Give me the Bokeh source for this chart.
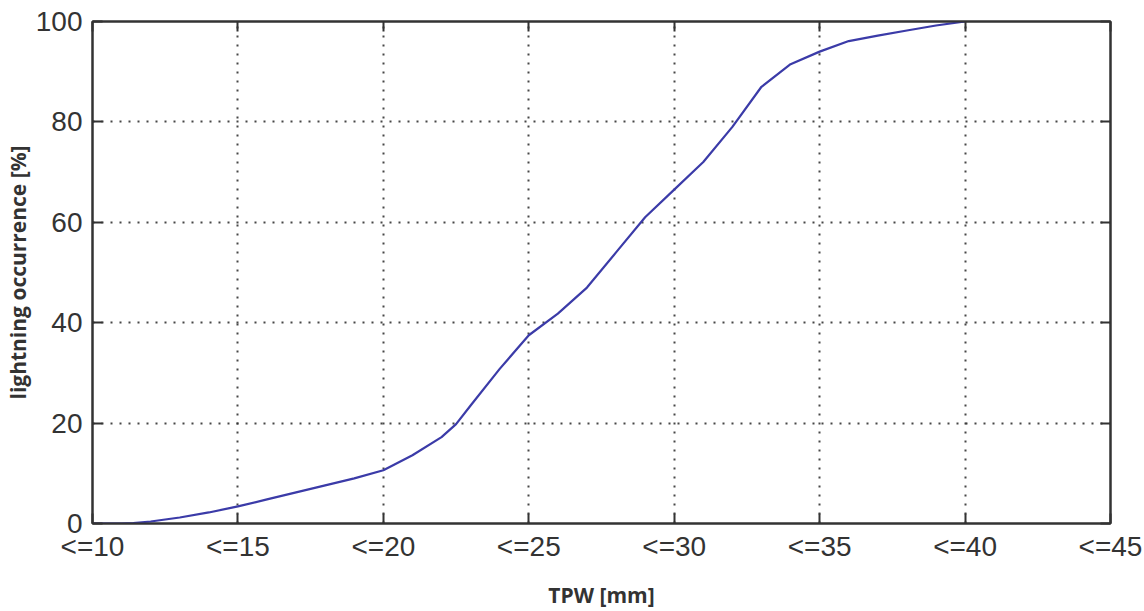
from bokeh.plotting import figure
from bokeh.models import Range1d, FixedTicker, LinearAxis, CustomJSTickFormatter
from bokeh.embed import file_html
from bokeh.resources import INLINE

# Data
tpw = [10, 11, 11.4, 12, 13, 14, 15, 16, 17, 18, 19, 20, 21, 22, 22.5, 23, 24, 25,
       26, 27, 28, 29, 30, 31, 32, 33, 34, 35, 36, 37, 38, 39, 40]
occurrence = [0, 0, 0.1, 0.4, 1.2, 2.2, 3.4, 4.8, 6.2, 7.6, 9.0, 10.6, 13.6, 17.2,
              19.8, 23.5, 30.8, 37.5, 41.8, 47.0, 54.0, 61.0, 66.5, 72.0, 79.0,
              87.0, 91.5, 94.0, 96.1, 97.2, 98.2, 99.2, 100.0]
x_ticks = [10, 15, 20, 25, 30, 35, 40, 45]
x_tick_labels = ["<=10", "<=15", "<=20", "<=25", "<=30", "<=35", "<=40", "<=45"]
y_ticks = [0, 20, 40, 60, 80, 100]

p = figure(width=1144, height=611, output_backend="svg", toolbar_location=None,
           x_range=Range1d(10, 45), y_range=Range1d(0, 100),
           min_border_left=92, min_border_right=34, min_border_top=21,
           min_border_bottom=88)

p.line(tpw, occurrence, line_color="#3b3ba8", line_width=2.2)

p.outline_line_color = "#333333"
p.outline_line_width = 2

p.xaxis.ticker = FixedTicker(ticks=x_ticks)
p.xaxis.major_label_overrides = {t: l for t, l in zip(x_ticks, x_tick_labels)}
p.yaxis.ticker = FixedTicker(ticks=y_ticks)

for ax in (p.xaxis[0], p.yaxis[0]):
    ax.axis_line_color = "#333333"
    ax.axis_line_width = 2
    ax.major_tick_in = 10
    ax.major_tick_out = 0
    ax.major_tick_line_color = "#333333"
    ax.major_tick_line_width = 2
    ax.minor_tick_line_color = None
    ax.major_label_text_font = "Liberation Sans"
    ax.major_label_text_font_size = "28px"
    ax.major_label_text_color = "#333333"
    ax.axis_label_text_font = "Open Sans"
    ax.axis_label_text_font_style = "bold"
    ax.axis_label_text_font_size = "21px"
    ax.axis_label_text_color = "#333333"

p.xaxis.axis_label = "TPW [mm]"
p.xaxis.major_label_standoff = 7
p.xaxis.axis_label_standoff = 16
p.yaxis.axis_label = "lightning occurrence [%]"
p.yaxis.major_label_standoff = 10
p.yaxis.axis_label_standoff = 1

empty = CustomJSTickFormatter(code="return ''")
top = LinearAxis(ticker=FixedTicker(ticks=x_ticks), formatter=empty)
right = LinearAxis(ticker=FixedTicker(ticks=y_ticks), formatter=empty)
for ax in (top, right):
    ax.axis_line_color = "#333333"
    ax.axis_line_width = 2
    ax.major_tick_in = 10
    ax.major_tick_out = 0
    ax.major_tick_line_color = "#333333"
    ax.major_tick_line_width = 2
    ax.minor_tick_line_color = None
    ax.major_label_text_font_size = "1px"
    ax.major_label_standoff = 0
p.add_layout(top, "above")
p.add_layout(right, "right")

p.xgrid.ticker = FixedTicker(ticks=x_ticks)
p.ygrid.ticker = FixedTicker(ticks=y_ticks)
for g in (p.xgrid[0], p.ygrid[0]):
    g.grid_line_color = "#333333"
    g.grid_line_width = 2
    g.grid_line_dash = "2 7"
    g.grid_line_alpha = 0.9

p.background_fill_color = "white"
p.border_fill_color = "white"

open("out.html", "w").write(file_html(p, INLINE))
